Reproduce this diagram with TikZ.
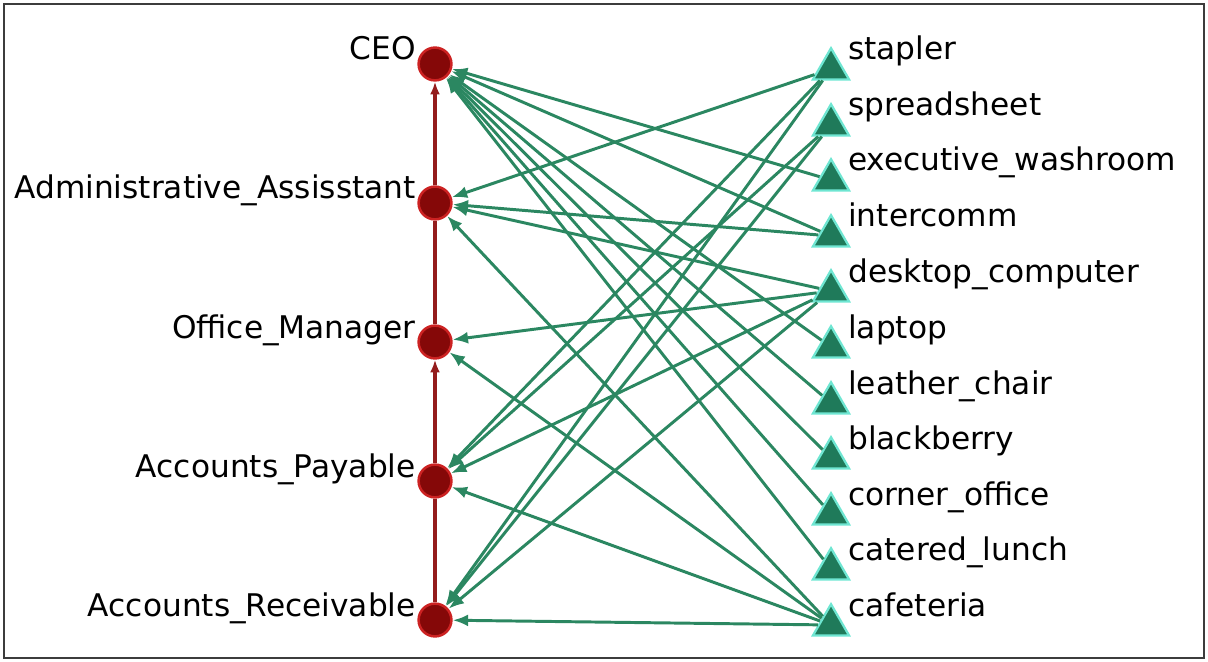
\documentclass[tikz,border=0pt]{standalone}
\usepackage{fontspec}
\setmainfont{DejaVu Sans}
\usetikzlibrary{arrows.meta,shapes.geometric}
\definecolor{persred}{HTML}{850808}
\definecolor{persglow}{HTML}{CC2222}
\definecolor{resgreen}{HTML}{1F7A5A}
\definecolor{resglow}{HTML}{6FE6D2}
\definecolor{usegreen}{HTML}{2B8761}
\definecolor{repred}{HTML}{941C1C}
\definecolor{framegray}{HTML}{3C3C3C}
\tikzset{
  >={Latex[length=11pt,width=8.5pt]},
  % personer
  pn/.style={circle,fill=persred,draw=persglow,line width=1.8pt,inner sep=0pt,
             minimum size=0.82cm},
  pl/.style={anchor=base east,inner sep=0pt,font=\fontsize{22.2}{26}\selectfont},
  % resurser
  rn/.style={regular polygon,regular polygon sides=3,fill=resgreen,draw=resglow,
             line width=1.6pt,inner sep=0pt,minimum size=1.04cm},
  rl/.style={anchor=base west,inner sep=0pt,font=\fontsize{22.2}{26}\selectfont},
  % kanter
  use/.style={->,draw=usegreen,line width=2.1pt},
  rep/.style={-{Latex[length=9pt,width=7pt]},draw=repred,line width=2.3pt},
  repl/.style={draw=repred,line width=2.3pt},
  frame/.style={draw=framegray,line width=1.5pt},
}
\begin{document}
\begin{tikzpicture}[x=0.025cm,y=-0.025cm]
  \useasboundingbox (0,0) rectangle (1208,662);
  \draw[frame] (4,4) rectangle (1204,658);
  % personer
  \node[pn] (ceo) at (435,64) {};   \node[pl] (lceo) at (416,60) {CEO};
  \node[pn] (aa) at (435,203) {};   \node[pl] (laa) at (416,199) {Administrative\_Assisstant};
  \node[pn] (om) at (435,342) {};   \node[pl] (lom) at (416,338) {Office\_Manager};
  \node[pn] (ap) at (435,481) {};   \node[pl] (lap) at (416,477) {Accounts\_Payable};
  \node[pn] (ar) at (435,620) {};   \node[pl] (lar) at (416,616) {Accounts\_Receivable};
  % resurser
  \node[rn] (st) at (831,69) {};    \node[rl] (lst) at (848,60) {stapler};
  \node[rn] (sp) at (831,125) {};   \node[rl] (lsp) at (848,116) {spreadsheet};
  \node[rn] (ew) at (831,180) {};   \node[rl] (lew) at (848,171) {executive\_washroom};
  \node[rn] (ic) at (831,236) {};   \node[rl] (lic) at (848,227) {intercomm};
  \node[rn] (dc) at (831,291) {};   \node[rl] (ldc) at (848,282) {desktop\_computer};
  \node[rn] (lt) at (831,347) {};   \node[rl] (llt) at (848,338) {laptop};
  \node[rn] (lc) at (831,403) {};   \node[rl] (llc) at (848,394) {leather\_chair};
  \node[rn] (bb) at (831,458) {};   \node[rl] (lbb) at (848,449) {blackberry};
  \node[rn] (co) at (831,514) {};   \node[rl] (lco) at (848,505) {corner\_office};
  \node[rn] (cl) at (831,569) {};   \node[rl] (lcl) at (848,560) {catered\_lunch};
  \node[rn] (cf) at (831,625) {};   \node[rl] (lcf) at (848,616) {cafeteria};
  % rapportering
  \draw[rep] (aa) -- (ceo);  \draw[repl] (om) -- (aa);
  \draw[rep] (ap) -- (om);   \draw[repl] (ar) -- (ap);
  % tillgang
  \foreach \r/\p in {st/aa,st/ap,st/ar,sp/ap,sp/ar,ew/ceo,ic/ceo,ic/aa,
                     dc/aa,dc/om,dc/ap,dc/ar,lt/ceo,lc/ceo,bb/ceo,co/ceo,cl/ceo,
                     cf/aa,cf/om,cf/ap,cf/ar}
    \draw[use] (\r) -- (\p);
\end{tikzpicture}
\end{document}
